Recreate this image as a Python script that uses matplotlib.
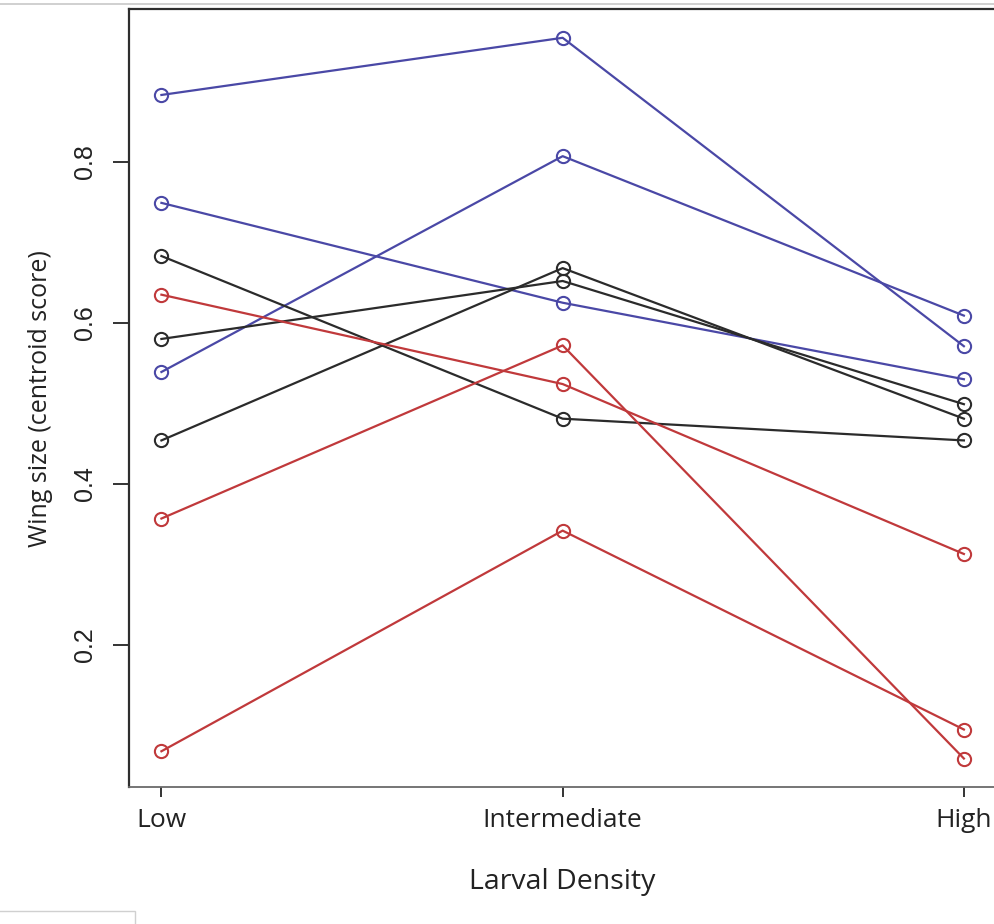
import matplotlib
matplotlib.use('Agg')
import matplotlib.pyplot as plt
from matplotlib.lines import Line2D
from matplotlib.patches import Rectangle

# data
density = ['Low', 'Intermediate', 'High']
xpos = [1, 2, 3]

blue1 = [0.883, 0.954, 0.571]
blue2 = [0.539, 0.807, 0.609]
blue3 = [0.749, 0.625, 0.530]
black1 = [0.683, 0.481, 0.454]
black2 = [0.580, 0.652, 0.499]
black3 = [0.454, 0.668, 0.481]
red1 = [0.635, 0.524, 0.313]
red2 = [0.357, 0.572, 0.059]
red3 = [0.068, 0.342, 0.095]

groups = [
    ('#4a48a6', [blue1, blue2, blue3]),
    ('#2b2b2b', [black1, black2, black3]),
    ('#c0393b', [red1, red2, red3]),
]

fig = plt.figure(figsize=(9.94, 9.24), dpi=100)
ax = fig.add_axes([0.1301, 0.1479, 1.002 - 0.1301, 0.9903 - 0.1479])

for col, lines in groups:
    for vals in lines:
        ax.plot(xpos, vals, color=col, lw=1.6, marker='o', ms=9.5,
                mfc='none', mec=col, mew=1.5)

# R style 4% padding
allv = blue1 + blue2 + blue3 + black1 + black2 + black3 + red1 + red2 + red3
lo, hi = min(allv), max(allv)
pad = (hi - lo) * 0.04
ax.set_ylim(lo - pad, hi + pad)
ax.set_xlim(0.92, 3.08)

ax.set_xticks(xpos)
ax.set_xticklabels(density, fontfamily='Open Sans', fontsize=19, color='#222222')
ax.set_yticks([0.2, 0.4, 0.6, 0.8])
ax.set_yticklabels(['0.2', '0.4', '0.6', '0.8'], rotation=90, va='center',
                   fontfamily='Liberation Sans', fontsize=18, color='#222222')
ax.tick_params(axis='y', length=11.5, width=1.4, pad=12, color='#333333')
ax.tick_params(axis='x', length=7, width=1.4, pad=8, color='#333333')

for s in ['left', 'top']:
    ax.spines[s].set_color('#2e2e2e')
    ax.spines[s].set_linewidth(1.6)
ax.spines['bottom'].set_color('#6a6a6a')
ax.spines['bottom'].set_linewidth(1.3)
ax.spines['right'].set_visible(False)

ax.set_xlabel('Larval Density', fontfamily='Open Sans', fontsize=20.5,
              color='#222222', labelpad=25)
ax.set_ylabel('Wing size (centroid score)', fontfamily='Open Sans',
              fontsize=18, color='#222222', labelpad=14)

# frame bits from the screenshot
fig.add_artist(Line2D([0, 1], [1 - 4 / 924, 1 - 4 / 924], color='#c8c8c8', lw=1.2))
fig.add_artist(Rectangle((-0.01, -0.01), 145 / 994, 13 / 924 + 0.01,
                         fill=False, ec='#d0d0d0', lw=1.0))

fig.savefig('out.png', dpi=100)
